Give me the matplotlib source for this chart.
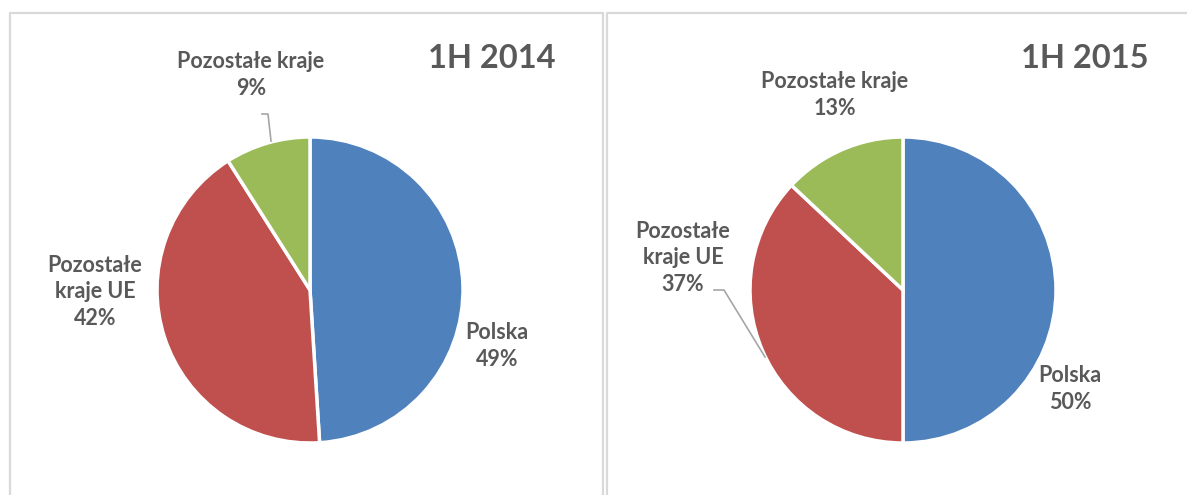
import matplotlib.pyplot as plt
from matplotlib.lines import Line2D

## chart data
categories = ["Polska", "Pozostałe kraje UE", "Pozostałe kraje"]
label_text = ["Polska", "Pozostałe\nkraje UE", "Pozostałe kraje"]
titles = ["1H 2014", "1H 2015"]
share_2014 = [49, 42, 9]
share_2015 = [50, 37, 13]
colors = ["#4F81BD", "#C0504D", "#9BBB59"]

W, H = 1187, 495
txt_col = "#595959"
plt.rcParams['font.family'] = ['Lato', 'DejaVu Sans']

fig = plt.figure(figsize=(W / 100, H / 100), dpi=100)

# panel frames (pixel coords, y from top)
def frame(x0, x1, y0):
    fig.add_artist(Line2D([x0 / W, x0 / W, x1 / W, x1 / W], [0, 1 - y0 / H, 1 - y0 / H, 0],
                          color="#D9D9D9", lw=1.6, transform=fig.transFigure))

frame(10, 603, 13)
frame(607, 1200, 13)

r = 153
panels = [
    dict(vals=share_2014, cx=310, cy=290, title_xy=(492, 58),
         lab_xy=[(497, 346), (95, 292), (251, 75)],
         leader=[2, [(262, 114), (268, 114), (271, 141)]]),
    dict(vals=share_2015, cx=903, cy=290, title_xy=(1085, 58),
         lab_xy=[(1070, 389), (683, 258), (835, 95)],
         leader=[1, [(714, 290), (724, 290), (765, 357)]]),
]

for p, title in zip(panels, titles):
    cx, cy = p["cx"], p["cy"]
    ax = fig.add_axes([(cx - r) / W, (H - cy - r) / H, 2 * r / W, 2 * r / H])
    ax.pie(p["vals"], colors=colors, startangle=90, counterclock=False, radius=1,
           wedgeprops=dict(edgecolor="white", linewidth=2.5))
    ax.set_xlim(-1, 1)
    ax.set_ylim(-1, 1)
    ax.axis("off")

    def d(px, py):
        return (px - cx) / r, (cy - py) / r

    for lab, v, (px, py) in zip(label_text, p["vals"], p["lab_xy"]):
        x, y = d(px, py)
        ax.text(x, y, f"{lab}\n{v:.0f}%", ha="center", va="center", fontsize=15.5,
                fontweight="bold", color=txt_col, linespacing=1.3, clip_on=False)

    pts = [d(*q) for q in p["leader"][1]]
    ax.plot([q[0] for q in pts], [q[1] for q in pts], color="#A6A6A6", lw=1.2, clip_on=False)

    tx, ty = d(*p["title_xy"])
    ax.text(tx, ty, title, ha="center", va="center", fontsize=23.5, fontweight="bold",
            color=txt_col, clip_on=False)

fig.savefig("out.png", dpi=100)
